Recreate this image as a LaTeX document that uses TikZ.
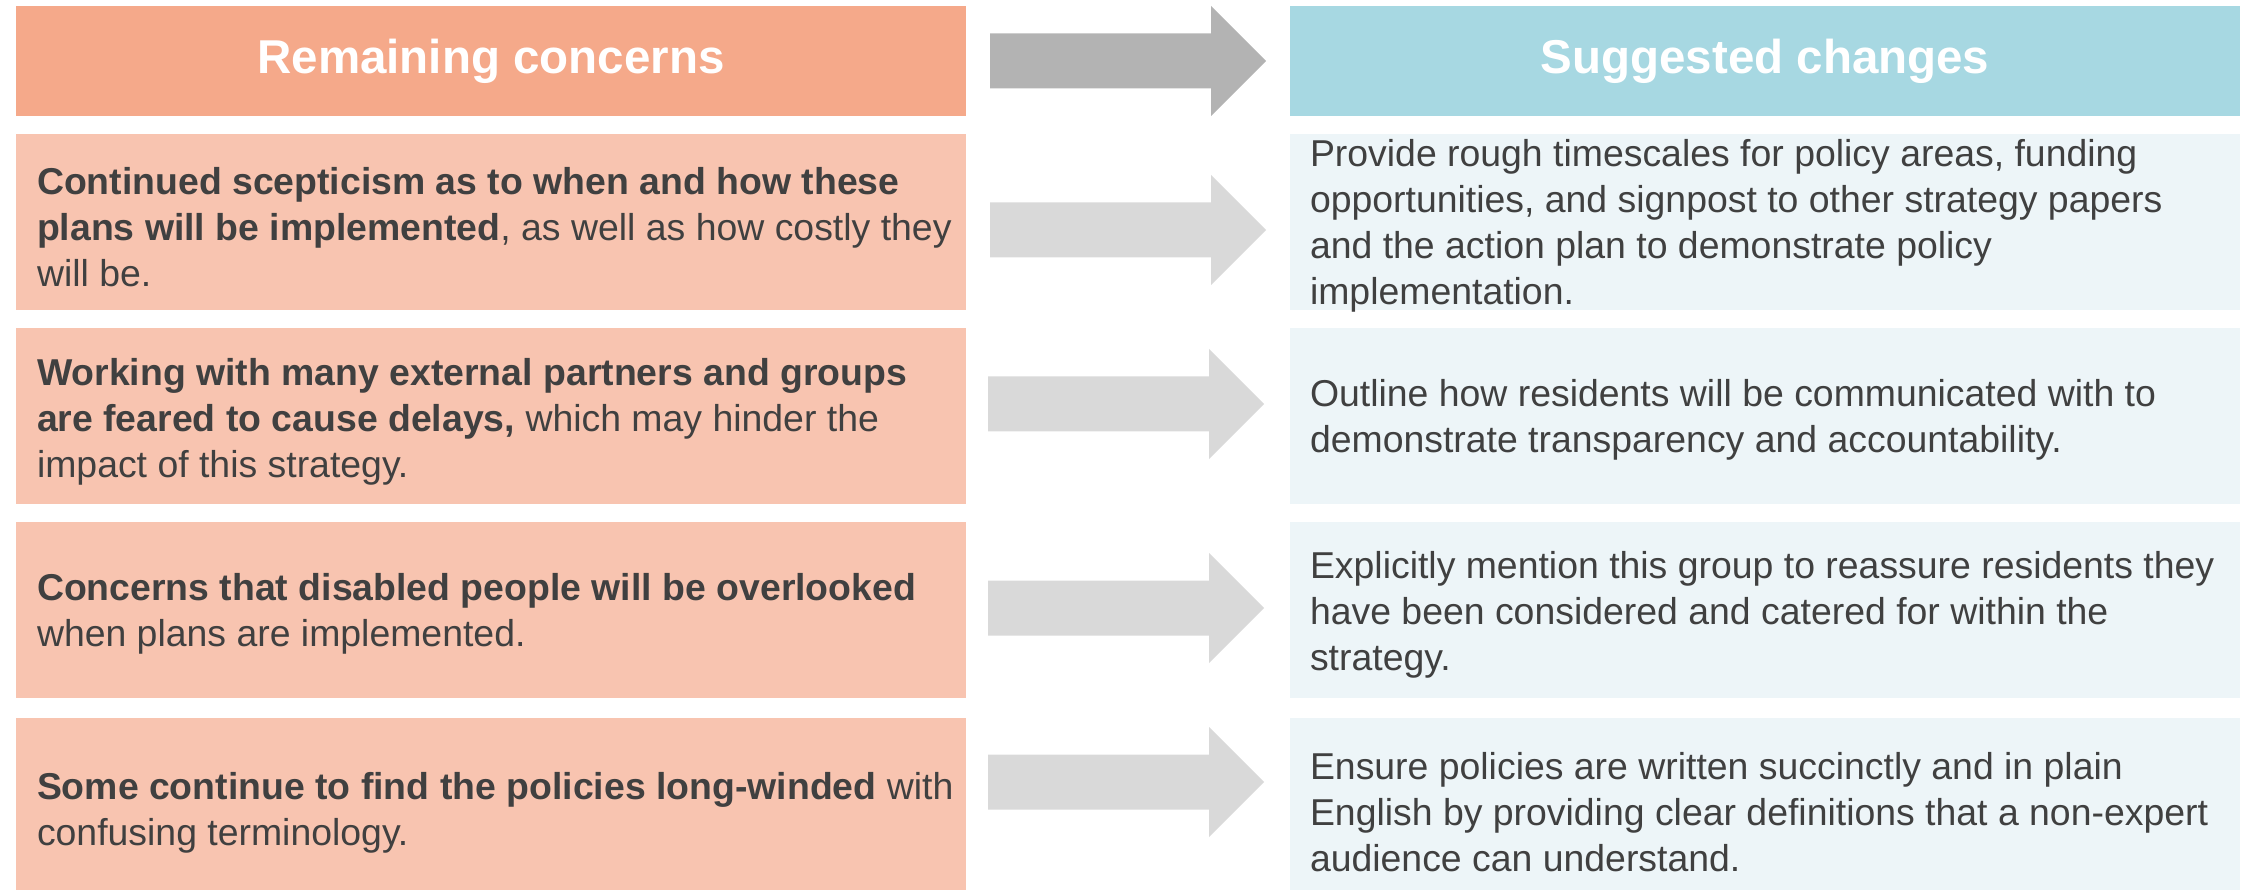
\documentclass[tikz,border=0pt]{standalone}
\usepackage{fontspec}
\setmainfont{Liberation Sans}
\definecolor{lhead}{HTML}{F5A98A}
\definecolor{lrow}{HTML}{F8C4B0}
\definecolor{rhead}{HTML}{A7D8E2}
\definecolor{rrow}{HTML}{EDF5F8}
\definecolor{arrdark}{HTML}{B3B3B3}
\definecolor{arrlight}{HTML}{D9D9D9}
\definecolor{txt}{HTML}{404040}
\begin{document}
\begin{tikzpicture}[x=1pt,y=-1pt,
  box/.style={rectangle, draw=none, inner sep=0pt, minimum width=950pt},
  headbox/.style={box, minimum height=110pt, text=white, font=\fontsize{47.5}{56}\selectfont\bfseries},
  rowtext/.style={inner sep=0pt, align=left, text=txt, font=\fontsize{37.4}{46}\selectfont},
  blockarrow/.pic={\fill[pic actions] (0,-27.5) -- (221,-27.5) -- (221,-55) -- (276,0) -- (221,55) -- (221,27.5) -- (0,27.5) -- cycle;}
]
\useasboundingbox (0,0) rectangle (2244,890);

% headers
\node[headbox, fill=lhead] (lh) at (491,61) {Remaining concerns};
\node[headbox, fill=rhead] (rh) at (1765,61) {Suggested changes};
\pic[fill=arrdark] (ah) at (990,61) {blockarrow};

% left boxes
\node[box, fill=lrow, minimum height=176pt] (l1) at (491,222) {};
\node[box, fill=lrow, minimum height=176pt] (l2) at (491,416) {};
\node[box, fill=lrow, minimum height=176pt] (l3) at (491,610) {};
\node[box, fill=lrow, minimum height=172pt] (l4) at (491,804) {};

% right boxes
\node[box, fill=rrow, minimum height=176pt] (r1) at (1765,222) {};
\node[box, fill=rrow, minimum height=176pt] (r2) at (1765,416) {};
\node[box, fill=rrow, minimum height=176pt] (r3) at (1765,610) {};
\node[box, fill=rrow, minimum height=172pt] (r4) at (1765,804) {};

% arrows
\pic[fill=arrlight] (a1) at (990,230) {blockarrow};
\pic[fill=arrlight] (a2) at (988,404) {blockarrow};
\pic[fill=arrlight] (a3) at (988,608) {blockarrow};
\pic[fill=arrlight] (a4) at (988,782) {blockarrow};

% left texts
\node[rowtext, anchor=west] (lt1) at ([xshift=21pt,yshift=-5pt]l1.west) {\textbf{Continued scepticism as to when and how these}\\\textbf{plans will be implemented}, as well as how costly they\\will be.};
\node[rowtext, anchor=west] (lt2) at ([xshift=21pt,yshift=-6pt]l2.west) {\textbf{Working with many external partners and groups}\\\textbf{are feared to cause delays,} which may hinder the\\impact of this strategy.};
\node[rowtext, anchor=west] (lt3) at ([xshift=21pt,yshift=-4pt]l3.west) {\textbf{Concerns that disabled people will be overlooked}\\when plans are implemented.};
\node[rowtext, anchor=west] (lt4) at ([xshift=21pt,yshift=-9pt]l4.west) {\textbf{Some continue to find the policies long-winded} with\\confusing terminology.};

% right texts
\node[rowtext, anchor=west] (rt1) at ([xshift=20pt,yshift=-4pt]r1.west) {Provide rough timescales for policy areas, funding\\opportunities, and signpost to other strategy papers\\and the action plan to demonstrate policy\\implementation.};
\node[rowtext, anchor=west] (rt2) at ([xshift=20pt,yshift=-4pt]r2.west) {Outline how residents will be communicated with to\\demonstrate transparency and accountability.};
\node[rowtext, anchor=west] (rt3) at ([xshift=20pt,yshift=-5pt]r3.west) {Explicitly mention this group to reassure residents they\\have been considered and catered for within the\\strategy.};
\node[rowtext, anchor=west] (rt4) at ([xshift=20pt,yshift=-8pt]r4.west) {Ensure policies are written succinctly and in plain\\English by providing clear definitions that a non-expert\\audience can understand.};
\end{tikzpicture}
\end{document}
